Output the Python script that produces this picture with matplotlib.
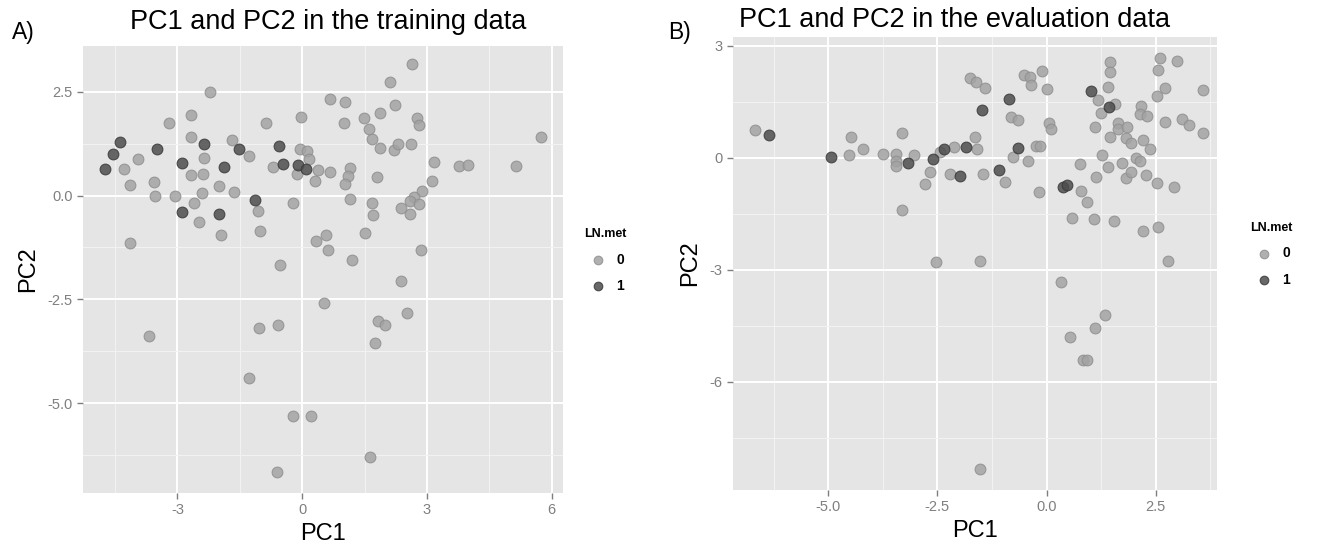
import matplotlib.pyplot as plt
import numpy as np

plt.rcParams['font.family'] = ['Liberation Sans', 'DejaVu Sans']

# training data (panel A)
train_pc1 = [-2.21, -2.67, -3.20, -4.29, -3.94, -4.13, -3.57, -3.53, -3.07, -2.67,
             -2.36, -2.67, -2.38, -2.41, -2.60, -2.48, -1.95, -1.99, -1.64, -1.69,
             -1.27, -1.07, -1.02, -0.87, -0.71, -0.23, -0.02, -0.06, 0.11, 0.16,
             -0.12, 0.37, 0.30, 0.67, 0.66, -0.53, -4.13, 0.32, 0.58, 0.61,
             2.65, 2.11, 1.03, 1.01, 1.49, 1.88, 2.23, 1.61, 1.69, 1.88,
             2.21, 2.31, 2.62, 2.76, 2.80, 3.16, 3.78, 3.98, 5.14, 5.73,
             1.15, 1.11, 1.03, 1.79, 3.11, 2.88, 2.68, 2.60, 2.82, 2.38,
             2.58, 1.15, 1.67, 1.70, 1.20, 1.51, 2.85, 2.38, 0.53, -3.69,
             -1.03, -0.58, -1.29, -0.23, 0.22, -0.60, 2.51, 1.83, 1.98, 1.74,
             1.63]
train_pc2 = [2.50, 1.95, 1.75, 0.64, 0.88, 0.26, 0.32, 0.00, -0.01, 1.40,
             0.91, 0.49, 0.51, 0.06, -0.19, -0.63, -0.95, 0.23, 0.09, 1.33,
             0.95, -0.37, -0.86, 1.75, 0.69, -0.18, 1.89, 1.12, 1.07, 0.88,
             0.53, 0.61, 0.35, 2.33, 0.56, -1.66, -1.14, -1.10, -0.96, -1.32,
             3.17, 2.74, 2.26, 1.75, 1.87, 1.99, 2.19, 1.60, 1.35, 1.14,
             1.09, 1.24, 1.24, 1.87, 1.71, 0.81, 0.72, 0.73, 0.72, 1.40,
             0.67, 0.48, 0.28, 0.44, 0.36, 0.10, -0.03, -0.13, -0.20, -0.30,
             -0.44, -0.09, -0.17, -0.47, -1.55, -0.91, -1.31, -2.05, -2.58, -3.39,
             -3.19, -3.11, -4.39, -5.31, -5.30, -6.66, -2.82, -3.01, -3.11, -3.56,
             -6.30]
train_met_pc1 = [-4.39, -4.56, -4.74, -3.49, -2.89, -2.36, -2.89, -1.99, -1.87, -1.52,
                 -1.13, -0.55, -0.46, -0.09, 0.08]
train_met_pc2 = [1.29, 0.99, 0.65, 1.13, 0.79, 1.24, -0.40, -0.45, 0.68, 1.13,
                 -0.10, 1.19, 0.76, 0.73, 0.64]

# evaluation data (panel B)
eval_pc1 = [-6.67, -4.49, -4.52, -4.21, -3.74, -3.32, -3.45, -3.45, -3.45, -3.04,
            -3.32, -2.68, -2.78, -2.45, -2.12, -2.22, -2.54, -1.59, -1.65, -1.46,
            -1.76, -1.61, -1.40, -0.82, -0.66, -0.77, -0.43, -0.95, -0.18, -0.52,
            -0.39, -0.35, -0.11, 0.01, 0.05, 0.11, -0.24, -0.16, 0.79, 0.92,
            0.76, 0.58, 1.08, 1.54, -1.52, 1.17, 1.57, 1.25, 1.46, 1.46,
            1.41, 1.11, 1.46, 1.63, 1.63, 1.85, 1.81, 1.92, 1.27, 1.40,
            1.14, 1.72, 1.82, 1.92, 2.05, 2.14, 2.27, 2.52, 2.92, 2.16,
            2.14, 2.30, 2.20, 2.36, 2.71, 3.10, 3.25, 3.58, 3.58, 2.52,
            2.71, 2.55, 2.60, 2.98, 2.20, 2.55, 2.78, 0.32, 1.34, 1.11,
            0.53, 0.83, 0.92, -1.52]
eval_pc2 = [0.76, 0.55, 0.07, 0.24, 0.11, 0.67, 0.11, -0.08, -0.21, 0.07,
            -1.40, -0.38, -0.70, 0.16, 0.30, -0.43, -2.78, 0.24, 0.57, -0.43,
            2.14, 2.03, 1.88, 1.09, 1.02, 0.02, -0.08, -0.65, -0.92, 2.23,
            2.18, 1.96, 2.34, 1.84, 0.94, 0.78, 0.33, 0.32, -0.88, -1.19,
            -0.17, -1.60, -1.64, -1.68, -2.76, 1.54, 1.45, 1.21, 2.57, 2.30,
            1.90, 0.82, 0.55, 0.94, 0.78, 0.84, 0.54, 0.39, 0.08, -0.25,
            -0.51, -0.14, -0.53, -0.37, 0.01, -0.08, -0.46, -0.68, -0.79, 1.38,
            1.18, 1.13, 0.48, 0.23, 0.96, 1.04, 0.88, 0.68, 1.82, 1.66,
            1.86, 2.36, 2.68, 2.60, -1.96, -1.84, -2.76, -3.33, -4.21, -4.55,
            -4.80, -5.42, -5.42, -8.35]
eval_met_pc1 = [-6.35, -4.93, -3.17, -2.60, -2.35, -1.99, -1.84, -1.47, -0.87, -0.66,
                -1.10, 0.37, 0.46, 1.02, 1.42]
eval_met_pc2 = [0.61, 0.02, -0.13, -0.03, 0.24, -0.48, 0.30, 1.29, 1.57, 0.26,
                -0.33, -0.79, -0.72, 1.78, 1.36]

light = '#a3a3a3'
dark = '#4d4d4d'
panel_bg = '#e5e5e5'
tick_col = '#7f7f7f'

fig = plt.figure(figsize=(13.23, 5.51), dpi=100)
axA = fig.add_axes([83 / 1323, 1 - 493 / 551, 480 / 1323, 447 / 551])
axB = fig.add_axes([733 / 1323, 1 - 490 / 551, 484 / 1323, 453 / 551])


def style(ax, xt, yt, xminor, yminor, xlim, ylim, xlab, ylab):
    ax.set_facecolor(panel_bg)
    for s in ax.spines.values():
        s.set_visible(False)
    ax.set_xlim(*xlim)
    ax.set_ylim(*ylim)
    ax.set_xticks(xt)
    ax.set_yticks(yt)
    ax.set_xticklabels(xlab)
    ax.set_yticklabels(ylab)
    ax.set_xticks(xminor, minor=True)
    ax.set_yticks(yminor, minor=True)
    ax.grid(True, which='major', color='white', linewidth=1.4)
    ax.grid(True, which='minor', color='#f2f2f2', linewidth=0.8)
    ax.tick_params(which='major', colors=tick_col, labelsize=10.5, length=4, width=1)
    ax.tick_params(which='minor', length=0)
    ax.set_axisbelow(True)


def points(ax, x0, y0, x1, y1, lx):
    ax.scatter(x0, y0, s=60, color=light, edgecolors='#8f8f8f', linewidths=0.8,
               alpha=0.85, label='0', zorder=3)
    ax.scatter(x1, y1, s=60, color=dark, edgecolors='#3a3a3a', linewidths=0.8,
               alpha=0.85, label='1', zorder=4)
    leg = ax.legend(title='LN.met', loc='center left', bbox_to_anchor=(lx, 0.52),
                    frameon=False, fontsize=10, title_fontsize=9, markerscale=0.8,
                    handletextpad=0.3, labelspacing=0.9, borderpad=0)
    leg.get_title().set_fontweight('bold')
    for t in leg.get_texts():
        t.set_fontweight('bold')
    leg._legend_box.align = 'left'


points(axA, train_pc1, train_pc2, train_met_pc1, train_met_pc2, 1.03)
style(axA, [-3, 0, 3, 6], [2.5, 0, -2.5, -5.0], [-4.5, -1.5, 1.5, 4.5],
      [1.25, -1.25, -3.75, -6.25], (-5.27, 6.27), (-7.16, 3.6),
      ['-3', '0', '3', '6'], ['2.5', '0.0', '-2.5', '-5.0'])
axA.set_xlabel('PC1', fontsize=17, labelpad=4)
axA.set_ylabel('PC2', fontsize=17, labelpad=6)

points(axB, eval_pc1, eval_pc2, eval_met_pc1, eval_met_pc2, 1.055)
style(axB, [-5.0, -2.5, 0.0, 2.5], [3, 0, -3, -6], [-6.25, -3.75, -1.25, 1.25, 3.75],
      [1.5, -1.5, -4.5, -7.5], (-7.18, 3.9), (-8.9, 3.24),
      ['-5.0', '-2.5', '0.0', '2.5'], ['3', '0', '-3', '-6'])
axB.set_xlabel('PC1', fontsize=17, labelpad=4)
axB.set_ylabel('PC2', fontsize=17, labelpad=6)

fig.text(328 / 1323, 1 - 22 / 551, 'PC1 and PC2 in the training data',
         fontsize=19.5, ha='center', va='center')
fig.text(955 / 1323, 1 - 20 / 551, 'PC1 and PC2 in the evaluation data',
         fontsize=19.5, ha='center', va='center')
fig.text(12 / 1323, 1 - 32 / 551, 'A)', fontsize=16.5, va='center')
fig.text(668 / 1323, 1 - 32 / 551, 'B)', fontsize=16.5, va='center')

fig.savefig('out.png', dpi=100, facecolor='white')
